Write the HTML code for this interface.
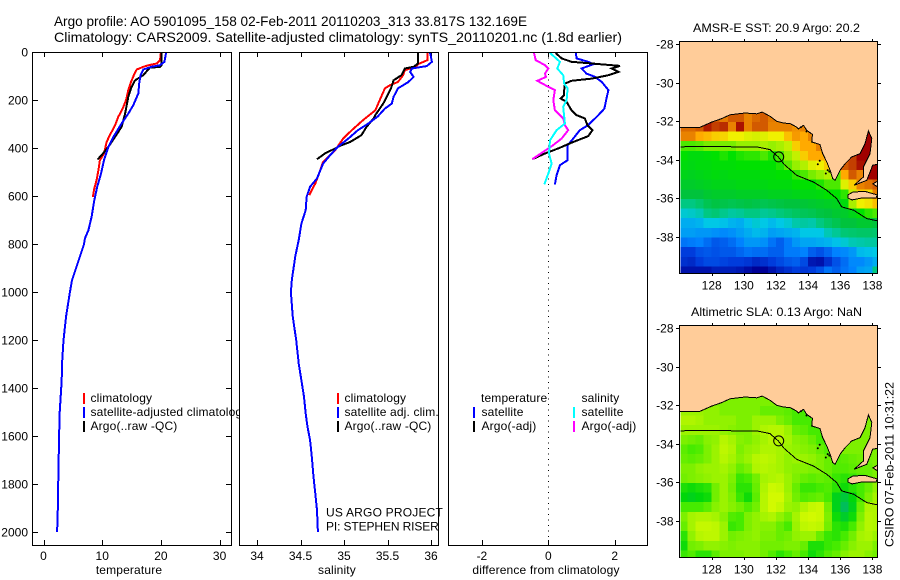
<!DOCTYPE html>
<html lang="en">
<head>
<meta charset="utf-8">
<title>Argo profile 5901095_158</title>
<style>
html,body{margin:0;padding:0;background:#fff;width:900px;height:580px;overflow:hidden}
svg{display:block;font-family:"Liberation Sans",sans-serif;font-size:12px;fill:#000}
.ln{fill:none;stroke-width:2;shape-rendering:crispEdges;stroke-linejoin:miter}
.fr{fill:none;stroke:#000;stroke-width:1;shape-rendering:crispEdges}
.tk{stroke:#000;stroke-width:1;shape-rendering:crispEdges}
.cell{shape-rendering:crispEdges}
.lg{letter-spacing:.15px}
</style>
</head>
<body>
<svg id="chart" xmlns="http://www.w3.org/2000/svg" width="900" height="580" viewBox="0 0 900 580">
<rect x="0" y="0" width="900" height="580" fill="#fff"/>
<text x="54" y="26" font-size="14" textLength="473" lengthAdjust="spacingAndGlyphs">Argo profile: AO 5901095_158 02-Feb-2011 20110203_313 33.817S 132.169E</text>
<text x="54" y="42" font-size="14" textLength="568" lengthAdjust="spacingAndGlyphs">Climatology: CARS2009. Satellite-adjusted climatology: synTS_20110201.nc (1.8d earlier)</text>
<g id="p1"></g>
<g id="p2"></g>
<g id="p3"></g>
<g id="m1"></g>
<g id="m2"></g>
<text x="776.5" y="32" text-anchor="middle" textLength="167" lengthAdjust="spacingAndGlyphs">AMSR-E SST: 20.9 Argo: 20.2</text>
<text x="776.5" y="316" text-anchor="middle" textLength="171" lengthAdjust="spacingAndGlyphs">Altimetric SLA: 0.13 Argo: NaN</text>
<text transform="translate(893.5,547) rotate(-90)" textLength="165" lengthAdjust="spacingAndGlyphs">CSIRO 07-Feb-2011 10:31:22</text>
</svg>
<script>
// ---------- profile data ----------
const depthTicks = [0,200,400,600,800,1000,1200,1400,1600,1800,2000];
const tempTicks = [0,10,20,30];
const salTicks = [34,34.5,35,35.5,36];
const salTickLabels = ['34','34.5','35','35.5','36'];
const diffTicks = [-2,0,2];

const tempClimDepth = [0,33,47,54,61,72,89,124,158,200,235,269,304,346,374,422,450,492,533,568,603];
const tempClim = [20.0,19.85,19.3,17.9,17.0,15.9,15.5,14.9,14.45,14.05,13.5,12.75,12.2,11.3,10.75,10.3,9.6,9.35,9.05,8.65,8.4];
const tempSatDepth = [0,40,54,61,72,96,130,172,221,256,297,353,394,450,506,561,617,686,742,776,800,950,1000,1100,1200,1300,1367,1500,1600,1800,1950,2000];
const tempSat = [20.9,20.6,19.85,18.4,17.0,16.55,16.3,16.15,15.3,14.45,13.3,11.9,11.05,10.3,9.8,9.15,8.65,8.2,7.65,7.05,6.9,4.85,4.5,3.85,3.4,3.15,3.1,2.76,2.65,2.5,2.4,2.3];
const tempArgoDepth = [0,54,61,65,96,117,144,186,256,311,353,394,429,447];
const tempArgo = [20.1,20.1,19.85,18.1,17.0,15.6,15.0,14.45,13.9,13.3,12.2,11.05,9.9,9.2];

const salClimDepth = [3,33,50,61,75,96,124,137,151,200,242,283,325,360,408,429,457,499,547,596];
const salClim = [35.96,35.96,35.85,35.82,35.70,35.68,35.62,35.53,35.47,35.41,35.36,35.22,35.09,34.99,34.90,34.84,34.76,34.72,34.67,34.60];
const salSatDepth = [3,40,58,68,82,103,124,151,186,214,235,267,297,325,360,394,429,464,526,561,603,658,714,781,850,950,1000,1100,1200,1300,1367,1436,1506,1561,1617,1686,1769,1839,1908,2000];
const salSat = [35.99,36.01,35.95,35.78,35.76,35.80,35.74,35.62,35.57,35.55,35.47,35.39,35.28,35.16,35.05,34.93,34.84,34.76,34.69,34.61,34.57,34.56,34.51,34.48,34.44,34.40,34.39,34.41,34.45,34.48,34.51,34.54,34.56,34.58,34.61,34.63,34.65,34.67,34.69,34.70];
const salArgoDepth = [3,47,61,68,96,117,151,214,262,276,311,346,374,388,408,422,446];
const salArgo = [35.85,35.85,35.80,35.70,35.66,35.57,35.54,35.45,35.36,35.34,35.26,35.20,35.07,34.97,34.86,34.78,34.69];

const diffTempSatDepth = [3,26,40,50,68,89,103,124,158,200,235,262,304,325,360,388,450,471,512,551];
const diffTempSat = [.83,.85,1.20,1.36,1.0,1.15,1.41,1.61,1.81,1.74,1.69,1.51,1.20,.95,.75,.58,.58,.35,.25,.20];
const diffTempArgoDepth = [3,26,40,47,57,68,82,96,110,119,131,158,179,193,207,242,262,276,304,325,350,374,401,422,446];
const diffTempArgo = [.22,.40,.70,1.31,2.16,1.91,2.11,1.81,1.31,.70,.50,.48,.48,.37,.55,.70,.85,1.10,1.18,1.33,1.20,.75,.30,-.10,-.48];
const diffSalSatDepth = [3,40,68,96,131,151,200,228,297,325,367,422,464,506,551];
const diffSalSat = [.05,.35,.27,.45,.48,.58,.55,.45,.50,.25,.05,.02,.10,0,-.12];
const diffSalArgoDepth = [3,33,54,68,89,103,119,144,158,200,242,276,304,325,360,392,415,446];
const diffSalArgo = [-.43,-.38,-.10,0,-.10,-.07,-.33,0,.20,.15,.20,.45,.50,.60,.40,.10,-.15,-.48];

// ---------- map data ----------
const mapLonTicks = [128,130,132,134,136,138];
const mapLatTicks = [-28,-30,-32,-34,-36,-38];
const gridLons = [126.25,126.75,127.25,127.75,128.25,128.75,129.25,129.75,130.25,130.75,131.25,131.75,132.25,132.75,133.25,133.75,134.25,134.75,135.25,135.75,136.25,136.75,137.25,137.75,138.25];
const gridLats = [-31.75,-32.25,-32.75,-33.25,-33.75,-34.25,-34.75,-35.25,-35.75,-36.25,-36.75,-37.25,-37.75,-38.25,-38.75,-39.25,-39.75];
const sstGrid = [
[25,25,25,25,25,24.6,25,25,24.5,24.8,25,24.6,24.5,24.5,24.5,24.5,24.5,24.5,24.5,24.5,24.5,24.5,24.5,24.5,24.5],
[24.8,24.8,25,25.7,25.3,25.5,24.5,25.8,24.5,25,25,24.5,24.5,24.5,24.3,24.5,25.5,25,25,25,25,25,25,25,25],
[24.5,24.5,24,23.8,23.5,23.4,23,23,22.8,22.7,22.8,23,23,23.7,24.2,24,24.5,24.5,24.5,24.5,24.5,24.5,24.5,26,24.5],
[21.5,21.5,21.6,21.8,21.8,21.8,21.8,22,22,22,22.2,22,22.2,22.5,23.5,24,24,24.5,24.5,24.5,24.5,24.5,26,26,24.5],
[21,20.8,20.8,20.9,21,21.2,21,21.2,21.3,21.3,21.5,21.2,21.5,22,22.5,23.5,24,24,24,24.5,24.5,25.3,26,26,26],
[20.8,20.7,20.8,20.8,20.9,20.9,20.9,21,21,21,21,21,21.2,21.6,22,22.3,22.8,23,23.5,24,25,25.3,25.8,26,26],
[20.6,20.5,20.6,20.7,20.8,20.7,20.8,20.8,20.8,20.8,20.9,20.9,21,21,21.3,21.5,21.8,22,22.3,21.5,24,25,24.5,26,26],
[20.3,20.3,20.4,20.5,20.6,20.6,20.6,20.7,20.7,20.7,20.7,20.8,20.8,20.8,21,21,21,21.2,21.5,21.5,22.8,23.5,24.5,24.7,25],
[20,20,20,20.2,20.3,20.3,20.3,20.4,20.4,20.4,20.4,20.5,20.5,20.5,20.6,20.7,20.7,20.8,21,21,21.3,22.5,23.5,23.3,24.5],
[19,19,19.3,19.7,19.9,19.8,19.7,19.8,19.9,19.8,19.7,19.8,19.9,20,20,20.1,20.2,20.3,20.4,20.5,20.8,22.2,23,23.2,23.7],
[18.2,18.3,18.5,19,19.2,18.9,18.7,18.8,19,19,18.8,18.9,19.1,19.3,19.5,19.6,19.7,19.9,20,20.2,20.3,20.6,21,21.3,21.5],
[17.6,17.6,17.7,18,18,17.9,17.7,17.6,17.9,18.2,18,17.8,18,18.2,18.6,18.7,18.6,19,19.4,19.7,20,20,20.2,20.2,20],
[17.4,17.4,17.3,17.3,17.2,17.1,17.2,17.4,17.6,17.8,17.7,17.4,17.5,17.6,17.7,18,18,18,18.5,18.8,19.2,19.3,19.4,19.4,19.3],
[16.8,16.9,17,16.7,16.4,16.5,16.7,17,17.3,17.3,17.2,16.8,16.5,16.9,17.3,17.5,17.5,17.6,17.7,17.9,18.2,18.5,18.6,18.7,18.7],
[16,16,16.3,16.4,16.3,16.4,16.4,16.6,16.8,16.7,16.7,16.5,16.5,16.9,16.9,17,16.5,16.3,16.6,17,17.1,17.3,17.8,17.9,18],
[15.8,15.7,16,16.2,16.2,16.1,16,16,15.9,15.7,15.8,16,16.2,16.4,16.5,16.2,15.4,15.3,15.8,16.3,16.7,17.1,17.1,17.3,17.6],
[15.3,15.3,15.3,15.3,15.5,15.5,15.5,15.4,15.2,15,15,15.3,15.6,15.8,16,15.9,16,16.3,16.8,16.5,16.8,17,17.4,17.5,19]
];
const slaGrid = [
[.1,.1,.1,.1,.1,.1,.1,.1,.1,.1,.1,.1,.1,.1,.1,.1,.1,.1,.1,.1,.1,.1,.1,.1,.1],
[.13,.13,.13,.12,.12,.1,.1,.1,.1,.1,.08,.08,.08,.07,.05,.05,.05,.05,.05,.05,.1,.1,.1,.1,.1],
[.15,.15,.14,.12,.12,.12,.12,.1,.1,.13,.13,.13,.1,.08,.05,.05,.05,.05,.05,.05,.1,.1,.1,.1,.1],
[.13,.13,.13,.13,.13,.12,.11,.1,.1,.13,.15,.16,.16,.13,.08,.07,.05,.05,.05,.07,.1,.1,.1,.1,.1],
[.1,.09,.08,.11,.12,.16,.14,.11,.1,.12,.14,.16,.16,.14,.11,.1,.08,.05,.05,.07,.1,.1,.1,.1,.1],
[.07,.05,.06,.1,.13,.17,.15,.1,.12,.13,.15,.15,.14,.13,.12,.11,.1,.08,.06,.07,.1,.1,.1,.1,.1],
[.08,.07,.08,.1,.13,.16,.14,.11,.13,.16,.17,.16,.14,.12,.13,.13,.12,.1,.08,.06,.07,.08,.09,.09,.1],
[.1,.1,.12,.13,.13,.14,.12,.08,.1,.15,.16,.15,.14,.12,.11,.11,.1,.1,.08,.06,.06,.07,.08,.08,.1],
[.09,.1,.11,.12,.13,.13,.1,.04,.05,.09,.14,.15,.16,.13,.1,.08,.07,.08,.07,.04,.03,.04,.06,.08,.1],
[.02,.01,.02,.03,.09,.13,.09,.03,.03,.08,.15,.19,.18,.13,.08,.04,.04,.05,.06,.03,.01,.03,.05,.08,.12],
[0,-.01,0,.01,.09,.13,.1,.04,.01,.07,.16,.21,.2,.14,.09,.06,.07,.08,.05,-.01,-.03,0,.05,.1,.14],
[.05,.05,.05,.07,.11,.13,.11,.09,.06,.09,.16,.2,.18,.13,.12,.15,.18,.19,.09,-.01,-.05,-.01,.08,.15,.15],
[.1,.14,.15,.15,.14,.11,.06,.05,.1,.12,.14,.15,.12,.09,.14,.19,.2,.19,.1,.01,-.02,.01,.1,.16,.15],
[.08,.14,.18,.18,.17,.13,.04,.05,.1,.12,.11,.11,.08,.05,.13,.17,.18,.17,.09,.03,.02,.05,.12,.16,.15],
[.03,.12,.16,.17,.17,.13,.09,.1,.11,.12,.1,.1,.08,.09,.12,.13,.13,.08,.04,.03,.05,.09,.14,.15,.13],
[.01,.09,.1,.12,.12,.11,.1,.11,.11,.11,.09,.09,.09,.1,.1,.08,.02,.02,.04,.05,.08,.11,.13,.13,.1],
[.04,.06,.03,.03,.07,.1,.1,.1,.11,.11,.09,.06,.03,.05,.08,.05,.01,.03,.06,.08,.11,.13,.13,.11,.09]
];
const coastLons = [125.99,126.07,127.27,128.0,128.62,129.14,130.07,130.80,131.15,131.63,132.05,132.46,132.88,133.29,133.39,133.71,133.91,134.27,134.22,134.74,134.91,135.16,135.37,135.53,135.68,135.99,136.30,136.71,137.23,137.54,137.75,137.96,137.85,137.44,137.44,136.86,137.65,138.02,138.34,138.34,125.99];
const coastLats = [-32.28,-32.28,-32.28,-32.01,-31.83,-31.63,-31.54,-31.58,-31.49,-31.71,-31.97,-32.06,-32.09,-32.27,-32.37,-32.18,-32.44,-32.65,-33.04,-33.18,-33.65,-34.08,-34.51,-34.94,-35.03,-34.51,-34.17,-33.82,-33.65,-33.13,-32.47,-32.87,-33.65,-34.34,-34.86,-35.29,-35.03,-34.25,-34.20,-27.8,-27.8];
const islandLons = [136.48,136.79,137.54,138.29,138.23,137.35,136.73,136.48];
const islandLats = [-35.79,-35.64,-35.61,-35.79,-35.95,-35.95,-36.05,-35.95];
const capeLons = [138.34,138.03,138.34];
const capeLats = [-35.07,-35.22,-35.38];
const contourLons = [126.07,126.86,128.31,129.56,130.80,131.63,132.15,132.50,133.29,134.33,135.16,135.78,136.09,136.82,137.65,138.33];
const contourLats = [-33.30,-33.27,-33.27,-33.30,-33.30,-33.44,-33.82,-34.20,-34.77,-35.12,-35.55,-35.98,-36.41,-36.58,-37.02,-37.14];
const speckLons = [135.22,135.32,133.55,133.9,135.1,134.72,134.6];
const speckLats = [-34.5,-34.58,-32.28,-32.5,-34.68,-34.02,-34.2];
const floatLon = 132.169;
const floatLat = -33.817;

// ---------- colour scales (value, r, g, b) ----------
const sstStops = [[15,0,0,150],[16,0,60,220],[17,0,130,255],[18,0,200,230],[19,0,200,130],[20,0,195,60],[21,0,225,0],[22,150,240,0],[23,240,240,0],[24,255,170,0],[25,210,90,0],[26,160,0,0]];
const slaStops = [[-0.05,0,190,90],[0,0,215,10],[0.05,70,235,0],[0.1,125,240,0],[0.15,175,245,0],[0.2,210,250,0]];

// ---------- helpers ----------
const NS = 'http://www.w3.org/2000/svg';
function mk(tag, parent, attrs, text){
  const el = document.createElementNS(NS, tag);
  for (const k in attrs) el.setAttribute(k, attrs[k]);
  if (text !== undefined) el.textContent = text;
  parent.appendChild(el);
  return el;
}
function colourFor(stops, v){
  if (v <= stops[0][0]) return 'rgb('+stops[0].slice(1).join(',')+')';
  for (let i = 1; i < stops.length; i++){
    if (v <= stops[i][0]){
      const a = stops[i-1], b = stops[i], f = (v-a[0])/(b[0]-a[0]);
      return 'rgb('+[1,2,3].map(j => Math.round(a[j]+(b[j]-a[j])*f)).join(',')+')';
    }
  }
  return 'rgb('+stops[stops.length-1].slice(1).join(',')+')';
}
const depthY = d => 52.2 + d*0.24;

// ---------- profile panels ----------
function panelFrame(g, left, xScale, ticks, labels, yTicks){
  const bg = mk('rect', g, {x:left+.5,y:52.5,width:200,height:493,fill:'#fff',stroke:'none'});
  
  
  ticks.forEach((t,i) => {
    const x = Math.round(xScale(t))+.5;
    const top = mk('line', g, {class:'tk',x1:x,x2:x,y1:52,y2:57});
    
    
    const bot = mk('line', g, {class:'tk',x1:x,x2:x,y1:540,y2:545});
    
    
    const lab = mk('text', g, {x:xScale(t),y:560,'text-anchor':'middle'}, labels[i]);
    
    
  });
  if (yTicks) yTicks.forEach(d => {
    const y = Math.floor(depthY(d))+.5;
    const l = mk('line', g, {class:'tk',x1:left,x2:left+6,y1:y,y2:y});
    
    
    const r = mk('line', g, {class:'tk',x1:left+194,x2:left+200,y1:y,y2:y});
    
    
    const lab = mk('text', g, {x:left-4,y:y+4,'text-anchor':'end'}, String(d));
    
    
  });
}
function panelBox(g, left){
  const box = mk('rect', g, {class:'fr',x:left+.5,y:52.5,width:199,height:493});
  
  
}
function profileLine(g, xScale, depths, values, colour){
  const pts = values.map((v,i) => xScale(v).toFixed(1)+','+depthY(depths[i]).toFixed(1)).join(' ');
  return mk('polyline', g, {class:'ln',points:pts,stroke:colour});
}
function legendRow(g, barX, textX, rowY, colour, label){
  if (colour){
    const b = mk('rect', g, {x:barX-1,y:rowY-9,width:2,height:11,fill:colour,class:'cell'});
    
    
  }
  const t = mk('text', g, {x:textX,y:rowY,class:'lg'}, label);
  
  
  return t;
}
function axisTitle(g, x, label){
  const t = mk('text', g, {x:x,y:574,'text-anchor':'middle',class:'lg'}, label);
  
  
}

// Temperature
const p1 = document.getElementById('p1');
const tempX = v => 43.5 + v*5.87;
panelFrame(p1, 32, tempX, tempTicks, tempTicks.map(String), depthTicks);
const t1 = profileLine(p1, tempX, tempClimDepth, tempClim, '#ff0000');


const t2 = profileLine(p1, tempX, tempArgoDepth, tempArgo, '#000000');


const t3 = profileLine(p1, tempX, tempSatDepth, tempSat, '#0000ff');


panelBox(p1, 32);
legendRow(p1, 84, 90.5, 402, '#ff0000', 'climatology');
legendRow(p1, 84, 90.5, 416, '#0000ff', 'satellite-adjusted climatology');
legendRow(p1, 84, 90.5, 430, '#000000', 'Argo(..raw -QC)');
axisTitle(p1, 129, 'temperature');

// Salinity
const p2 = document.getElementById('p2');
const salX = v => 257 + (v-34)*87;
panelFrame(p2, 239, salX, salTicks, salTickLabels, null);
const s1 = profileLine(p2, salX, salClimDepth, salClim, '#ff0000');


const s2 = profileLine(p2, salX, salArgoDepth, salArgo, '#000000');


const s3 = profileLine(p2, salX, salSatDepth, salSat, '#0000ff');


panelBox(p2, 239);
legendRow(p2, 338, 344.5, 402, '#ff0000', 'climatology');
legendRow(p2, 338, 344.5, 416, '#0000ff', 'satellite adj. clim.');
legendRow(p2, 338, 344.5, 430, '#000000', 'Argo(..raw -QC)');
const creditProject = legendRow(p2, 0, 326, 516.5, null, 'US ARGO PROJECT');
creditProject.setAttribute('textLength', '117');
const creditPi = legendRow(p2, 0, 326, 530.5, null, 'PI: STEPHEN RISER');
creditPi.setAttribute('textLength', '113');
axisTitle(p2, 337, 'salinity');

// Differences
const p3 = document.getElementById('p3');
const diffX = v => 548.3 + v*33.2;
panelFrame(p3, 448, diffX, diffTicks, diffTicks.map(String), null);
const zero = mk('line', p3, {x1:548.5,x2:548.5,y1:52,y2:545,stroke:'#000','stroke-width':1,'stroke-dasharray':'1 4.5','shape-rendering':'crispEdges'});


const d1 = profileLine(p3, diffX, diffTempSatDepth, diffTempSat, '#0000ff');


const d2 = profileLine(p3, diffX, diffTempArgoDepth, diffTempArgo, '#000000');


const d3 = profileLine(p3, diffX, diffSalArgoDepth, diffSalArgo, '#ff00ff');


const d4 = profileLine(p3, diffX, diffSalSatDepth, diffSalSat, '#00ffff');


panelBox(p3, 448);
legendRow(p3, 0, 481, 402, null, 'temperature');
legendRow(p3, 474, 481.5, 416, '#0000ff', 'satellite');
legendRow(p3, 474, 481.5, 430, '#000000', 'Argo(-adj)');
legendRow(p3, 0, 581.5, 402, null, 'salinity');
legendRow(p3, 574, 581.5, 416, '#00ffff', 'satellite');
legendRow(p3, 574, 581.5, 430, '#ff00ff', 'Argo(-adj)');
axisTitle(p3, 546, 'difference from climatology');

// ---------- maps ----------
const lonX = lon => 711.7 + (lon-128)*16.07;
const xyPts = (lons, lats, latY) => lons.map((v,i) => lonX(v).toFixed(1)+','+latY(lats[i]).toFixed(1)).join(' ');
function drawMap(g, clipId, frameTop, grid, stops){
  const latY = lat => frameTop + 2.8 + (-28-lat)*19.27;
  const defs = mk('defs', g, {});
  const cp = mk('clipPath', defs, {id:clipId});
  mk('rect', cp, {x:680,y:frameTop,width:198,height:232});
  const inner = mk('g', g, {'clip-path':'url(#'+clipId+')'});
  
  
  grid.forEach((row, r) => {
    row.forEach((v, c) => {
      const x0 = Math.max(lonX(gridLons[c]-.25), lonX(126.07));
      const x1 = lonX(gridLons[c]+.25);
      const y0 = latY(gridLats[r]+.25);
      const y1 = latY(gridLats[r]-.25);
      const cell = mk('rect', inner, {class:'cell',x:x0.toFixed(1),y:y0.toFixed(1),width:(x1-x0+.6).toFixed(1),height:(y1-y0+.6).toFixed(1),fill:colourFor(stops, v)});
      
      
    });
  });
  const land = mk('polygon', inner, {points:xyPts(coastLons,coastLats,latY),fill:'#ffcc99',stroke:'#000','stroke-width':1,'shape-rendering':'crispEdges'});
  
  
  const isl = mk('polygon', inner, {points:xyPts(islandLons,islandLats,latY),fill:'#ffcc99',stroke:'#000','stroke-width':1,'shape-rendering':'crispEdges'});
  
  
  const cape = mk('polygon', inner, {points:xyPts(capeLons,capeLats,latY),fill:'#ffcc99',stroke:'#000','stroke-width':1,'shape-rendering':'crispEdges'});
  
  
  speckLons.forEach((lon,i) => {
    const s = mk('circle', inner, {cx:lonX(lon).toFixed(1),cy:latY(speckLats[i]).toFixed(1),r:1,fill:'#000'});
    
    
  });
  const ct = mk('polyline', inner, {points:xyPts(contourLons,contourLats,latY),fill:'none',stroke:'#000','stroke-width':1,'shape-rendering':'crispEdges'});
  
  
  const mark = mk('circle', inner, {cx:lonX(floatLon).toFixed(1),cy:latY(floatLat).toFixed(1),r:5,fill:'none',stroke:'#000','stroke-width':1});
  
  
  const box = mk('rect', g, {class:'fr',x:679.5,y:frameTop-.5,width:198,height:232});
  
  
  mapLonTicks.forEach(t => {
    const x = Math.round(lonX(t))+.5;
    const a = mk('line', g, {class:'tk',x1:x,x2:x,y1:frameTop-3,y2:frameTop});
    
    
    const b = mk('line', g, {class:'tk',x1:x,x2:x,y1:frameTop+231,y2:frameTop+234});
    
    
    const lab = mk('text', g, {x:lonX(t),y:frameTop+247.5,'text-anchor':'middle'}, String(t));
    
    
  });
  mapLatTicks.forEach(t => {
    const y = Math.floor(latY(t))+.5;
    const a = mk('line', g, {class:'tk',x1:676,x2:679,y1:y,y2:y});
    
    
    const b = mk('line', g, {class:'tk',x1:878,x2:881,y1:y,y2:y});
    
    
    const lab = mk('text', g, {x:673.5,y:y+4,'text-anchor':'end'}, String(t));
    
    
  });
}
drawMap(document.getElementById('m1'), 'clip-sst', 42, sstGrid, sstStops);
drawMap(document.getElementById('m2'), 'clip-sla', 326, slaGrid, slaStops);
</script>
</body>
</html>
